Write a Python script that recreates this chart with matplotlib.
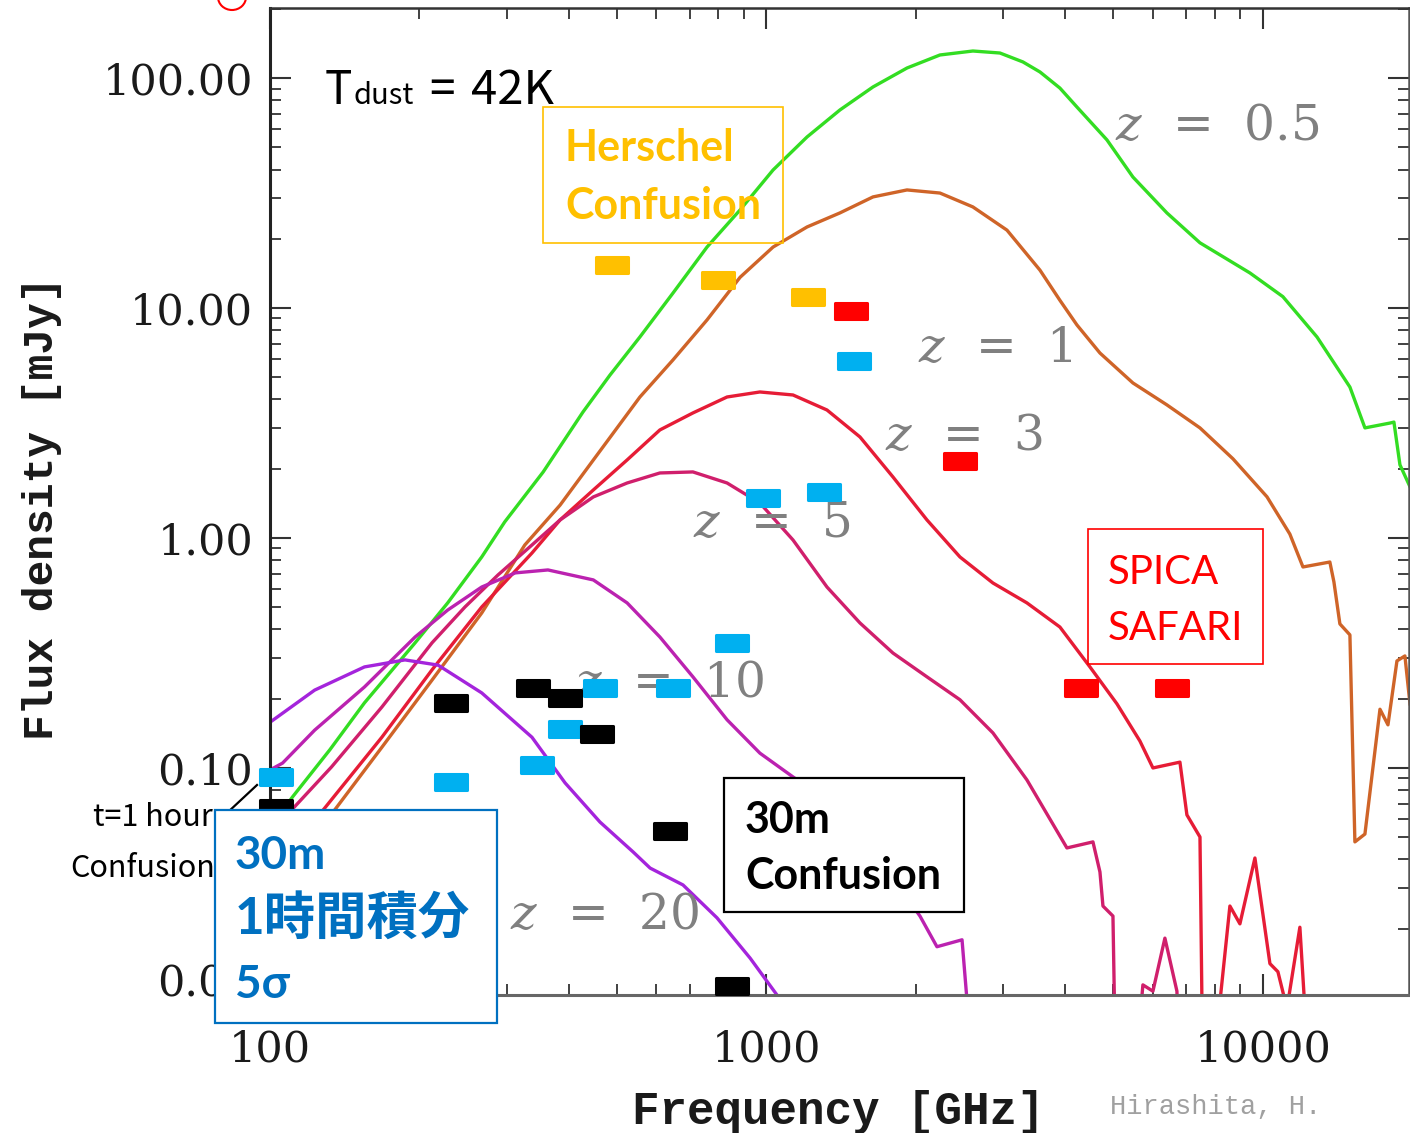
import matplotlib
matplotlib.use("Agg")
import matplotlib.pyplot as plt
from matplotlib.path import Path
from matplotlib.markers import MarkerStyle
from matplotlib.patches import Rectangle, Ellipse
from matplotlib.lines import Line2D
from matplotlib.ticker import FixedLocator, FuncFormatter, NullFormatter, LogLocator

plt.rcParams['font.family'] = ['DejaVu Serif']
plt.rcParams['mathtext.fontset'] = 'dejavuserif'

# ---- model SEDs, T_dust = 42K  (frequency [GHz], flux density [mJy]) ----
z05_freq = [103, 108, 111, 132, 155, 196, 228, 267, 297, 355, 427, 484, 556, 648, 759, 885,
            1031, 1207, 1406, 1639, 1919, 2236, 2605, 2953, 3286, 3556, 3900, 4220, 4851,
            5472, 6406, 7468, 9415, 10970, 12850, 14970, 16050, 18030, 18360, 18880, 19780]
z05_flux = [0.0644, 0.069, 0.0748, 0.120, 0.192, 0.350, 0.522, 0.827, 1.174, 1.936, 3.53,
            5.11, 7.48, 11.6, 18.4, 26.7, 39.8, 55.4, 72.6, 91.4, 110.5, 125.9, 131.0, 128.4,
            117.4, 106.2, 90.4, 74.8, 53.8, 37.1, 25.9, 19.2, 14.2, 11.2, 7.48, 4.53, 3.01,
            3.16, 3.19, 2.08, 1.67]

z1_freq = [125, 135, 168, 212, 267, 326, 384, 445, 556, 648, 759, 885, 1031, 1207, 1406, 1639,
           1919, 2236, 2605, 3051, 3556, 3900, 4220, 4696, 5472, 6406, 7468, 8701, 10190,
           11330, 12040, 13640, 13900, 14290, 14970, 15320, 16050, 17210, 17860, 18620,
           19320, 19780]
z1_flux = [0.0537, 0.0657, 0.123, 0.241, 0.472, 0.932, 1.39, 2.14, 4.10, 5.94, 8.87, 13.6,
           18.4, 22.5, 25.9, 30.4, 32.6, 31.6, 27.5, 21.8, 14.6, 10.8, 8.44, 6.37, 4.72, 3.79,
           3.01, 2.21, 1.51, 1.04, 0.748, 0.786, 0.644, 0.423, 0.379, 0.0477, 0.0516, 0.180,
           0.154, 0.292, 0.307, 0.190]

z3_freq = [128, 168, 212, 267, 337, 384, 448, 524, 610, 711, 833, 970, 1131, 1324, 1543, 1798,
           2105, 2453, 2859, 3347, 3900, 4483, 5081, 5652, 6004, 6805, 7029, 7468, 7573, 8120,
           8580, 8988, 9636, 10330, 10720, 11180, 11870, 12430]
z3_flux = [0.0657, 0.136, 0.267, 0.501, 0.860, 1.198, 1.617, 2.184, 2.949, 3.496, 4.102,
           4.313, 4.185, 3.601, 2.749, 1.842, 1.198, 0.827, 0.637, 0.522, 0.410, 0.275, 0.190,
           0.131, 0.100, 0.106, 0.0625, 0.0501, 0.004, 0.008, 0.0251, 0.0210, 0.0406, 0.0141,
           0.0130, 0.009, 0.0203, 0.004]

z5_freq = [106, 112, 133, 168, 212, 247, 288, 337, 384, 448, 524, 610, 711, 833, 970, 1131,
           1324, 1543, 1798, 2105, 2453, 2859, 3347, 4029, 4546, 4696, 4762, 4988, 5057, 5652,
           5731, 6004, 6347, 6711, 6805]
z5_flux = [0.0594, 0.0677, 0.101, 0.184, 0.350, 0.501, 0.691, 0.932, 1.198, 1.508, 1.734,
           1.917, 1.937, 1.734, 1.419, 0.980, 0.612, 0.427, 0.316, 0.249, 0.198, 0.142,
           0.0887, 0.0449, 0.0477, 0.0353, 0.0251, 0.0227, 0.004, 0.008, 0.0114, 0.0107,
           0.0182, 0.0107, 0.004]

z10_freq = [100, 106, 123, 155, 196, 228, 267, 312, 363, 448, 524, 610, 711, 833, 970, 1131,
            1406, 1693, 2038, 2205, 2477, 2600]
z10_flux = [0.098, 0.105, 0.146, 0.225, 0.371, 0.486, 0.612, 0.705, 0.726, 0.657, 0.522,
            0.371, 0.249, 0.162, 0.116, 0.0914, 0.0657, 0.0398, 0.0227, 0.0167, 0.0179, 0.005]

z20_freq = [100, 123, 155, 187, 218, 267, 337, 393, 462, 539, 583, 679, 795, 927, 1050, 1115]
z20_flux = [0.158, 0.218, 0.275, 0.295, 0.280, 0.212, 0.136, 0.0861, 0.0582, 0.0431, 0.0367,
            0.0310, 0.0223, 0.0149, 0.0103, 0.005]

curves = [
    (z05_freq, z05_flux, '#33dd22', '0.5'),
    (z1_freq, z1_flux, '#cf6428', '1'),
    (z3_freq, z3_flux, '#e61c36', '3'),
    (z5_freq, z5_flux, '#d01f6c', '5'),
    (z10_freq, z10_flux, '#bb22b0', '10'),
    (z20_freq, z20_flux, '#a424dc', '20'),
]

# ---- sensitivity limits ----
herschel_freq = [488, 798, 1212]
herschel_flux = [15.4, 13.2, 11.2]
spica_freq = [1480, 2453, 4299, 6557]
spica_flux = [9.70, 2.16, 0.223, 0.223]
m30_1h_freq = [103, 231, 345, 393, 462, 648, 852, 984, 1306, 1501]
m30_1h_flux = [0.0914, 0.0869, 0.103, 0.148, 0.223, 0.223, 0.350, 1.49, 1.585, 5.88]
m30_conf_freq = [103, 231, 339, 393, 456, 639, 852]
m30_conf_flux = [0.067, 0.192, 0.223, 0.2015, 0.1405, 0.0532, 0.0113]

W, H = 1410, 1133
fig = plt.figure(figsize=(W / 100, H / 100), dpi=100)


def fx(px):
    return px / W


def fy(py):
    return 1 - py / H


ax = fig.add_axes([fx(270), fy(995), fx(1409) - fx(270), fy(8) - fy(995)])
ax.set_xscale('log')
ax.set_yscale('log')
ax.set_xlim(100, 19690)
ax.set_ylim(0.0103, 201.5)

for f, s, c, z in curves:
    ax.plot(f, s, color=c, lw=2.4, solid_joinstyle='round', zorder=2)

# rectangular markers
rect = Path([(-1, -0.53), (1, -0.53), (1, 0.53), (-1, 0.53), (-1, -0.53)],
            [Path.MOVETO, Path.LINETO, Path.LINETO, Path.LINETO, Path.CLOSEPOLY])
mk = MarkerStyle(rect, joinstyle='round')
for f, s, c in [(herschel_freq, herschel_flux, '#ffc000'),
                (spica_freq, spica_flux, '#ff0000'),
                (m30_1h_freq, m30_1h_flux, '#00b0f0'),
                (m30_conf_freq, m30_conf_flux, '#000000')]:
    ax.plot(f, s, ls='none', marker=mk, ms=23, mfc=c, mec=c, mew=2.2,
            clip_on=False, zorder=4)

# ticks
ax.yaxis.set_major_locator(FixedLocator([0.1, 1, 10, 100]))
ax.yaxis.set_major_formatter(FuncFormatter(lambda v, p: '%.2f' % v))
ax.xaxis.set_major_locator(FixedLocator([100, 1000, 10000]))
ax.xaxis.set_major_formatter(FuncFormatter(lambda v, p: '%d' % v))
ax.xaxis.set_minor_locator(LogLocator(subs=range(2, 10), numticks=20))
ax.yaxis.set_minor_locator(LogLocator(subs=range(2, 10), numticks=20))
ax.xaxis.set_minor_formatter(NullFormatter())
ax.yaxis.set_minor_formatter(NullFormatter())
ax.tick_params(which='both', direction='in', top=True, right=True, colors='#333333',
               labelcolor='#1a1a1a', labelsize=31)
ax.tick_params(which='major', length=15, width=1.5)
ax.tick_params(which='minor', length=8, width=1.3)
ax.tick_params(axis='y', pad=12)
ax.tick_params(axis='x', pad=24)
ax.spines['left'].set_linewidth(2.2)
ax.spines['left'].set_color('#222222')
ax.spines['bottom'].set_linewidth(2.2)
ax.spines['bottom'].set_color('#666666')
ax.spines['top'].set_linewidth(1.8)
ax.spines['top'].set_color('#333333')
ax.spines['right'].set_linewidth(1.8)
ax.spines['right'].set_color('#555555')
# bottom label of the y axis sits just at the lower edge
fig.text(fx(253), fy(983), '0.01', ha='right', va='center', fontsize=31, color='#1a1a1a',
         zorder=2)

# redshift labels
z_pos = {'0.5': (1115, 140), '1': (918, 362), '3': (885, 450), '5': (693, 537),
         '10': (575, 697), '20': (510, 929)}
for f, s, c, z in curves:
    x0, yb = z_pos[z]
    ax.text(fx(x0), fy(yb), r'$z$  =  ' + z, transform=fig.transFigure, ha='left',
            va='baseline', fontsize=35, color='#808080', zorder=3)

# axis titles
fig.text(fx(838), fy(1124), 'Frequency [GHz]', ha='center', va='baseline',
         family='Liberation Mono', weight='bold', fontsize=33, color='#1a1a1a')
fig.text(fx(42), fy(508), 'Flux density [mJy]', ha='center', va='center', rotation=90,
         family='Liberation Mono', weight='bold', fontsize=31, color='#1a1a1a')
fig.text(fx(1110), fy(1114), 'Hirashita, H.', ha='left', va='baseline',
         family='Liberation Mono', fontsize=19.5, color='#a0a0a0')

# T_dust
jp = ['Noto Sans CJK JP', 'DejaVu Sans']
fig.text(fx(325), fy(104), 'T', family=jp, fontsize=33, ha='left', va='baseline')
fig.text(fx(354), fy(104), 'dust', family=jp, fontsize=21, ha='left', va='baseline')
fig.text(fx(429), fy(104), '=', family=jp, fontsize=33, ha='left', va='baseline')
fig.text(fx(471), fy(104), '42K', family=jp, fontsize=34, ha='left', va='baseline')

# red circle remnant at top
fig.add_artist(Ellipse((fx(232), fy(-3)), 28 / W, 26 / H, transform=fig.transFigure,
                       fill=False, ec='#ff0000', lw=1.5))


def box(x0, y0, x1, y1, ec, lw, fill, z=5):
    fig.add_artist(Rectangle((fx(x0), fy(y1)), fx(x1) - fx(x0), fy(y0) - fy(y1),
                             transform=fig.transFigure, ec=ec, lw=lw,
                             fc='white' if fill else 'none', fill=fill, zorder=z))


lat = ['Lato', 'Noto Sans CJK JP', 'DejaVu Sans']

# Herschel
box(543, 107, 783, 243, '#ffc000', 1.2, False)
fig.text(fx(565), fy(161), 'Herschel', family=lat, weight='bold', fontsize=31,
         color='#ffc000', zorder=6)
fig.text(fx(565), fy(219), 'Confusion', family=lat, weight='bold', fontsize=31,
         color='#ffc000', zorder=6)

# SPICA
box(1088, 529, 1263, 664, '#ff0000', 1.2, False)
fig.text(fx(1108), fy(584), 'SPICA', family=lat, fontsize=29, color='#ff0000', zorder=6)
fig.text(fx(1108), fy(640), 'SAFARI', family=lat, fontsize=29, color='#ff0000', zorder=6)

# 30m confusion
box(724, 778, 964, 912, '#000000', 1.6, True)
fig.text(fx(745), fy(833), '30m', family=lat, weight='bold', fontsize=31, color='black',
         zorder=6)
fig.text(fx(745), fy(889), 'Confusion', family=lat, weight='bold', fontsize=31,
         color='black', zorder=6)

# t=1 hour / Confusion labels + leader line
fig.text(fx(93), fy(826), 't=1 hour', family=jp, fontsize=22, color='black', zorder=2)
fig.text(fx(70), fy(877), 'Confusion', family=jp, fontsize=22, color='black', zorder=2)
fig.add_artist(Line2D([fx(227), fx(257)], [fy(813), fy(785)], transform=fig.transFigure,
                      color='black', lw=1.6, zorder=2))

# 30m 1h 5sigma
blue = '#0070c0'
box(215, 810, 497, 1023, blue, 1.6, True)
fig.text(fx(235), fy(869), '30m', family=lat, weight='bold', fontsize=33, color=blue, zorder=6)
fig.text(fx(235), fy(934), '1時間積分', family=lat, weight='bold', fontsize=37, color=blue,
         zorder=6)
fig.text(fx(235), fy(998), '5σ', family=lat, weight='bold', fontsize=33, color=blue, zorder=6)

fig.savefig('out.png', dpi=100, facecolor='white')
